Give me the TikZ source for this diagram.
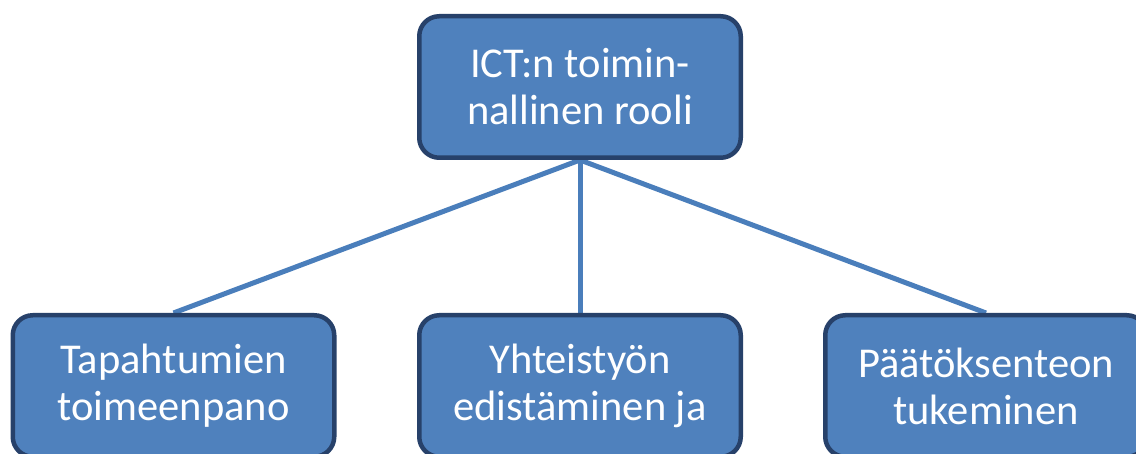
\documentclass[tikz,border=0pt]{standalone}
\usepackage{fontspec}
\setmainfont{Carlito}
\usetikzlibrary{backgrounds}
\definecolor{boxfill}{HTML}{4F81BD}
\definecolor{boxedge}{HTML}{27416A}
\definecolor{linkcol}{HTML}{4A7EBB}
\tikzset{
  orgbox/.style={draw=boxedge, fill=boxfill, line width=4.5pt, rounded corners=20pt,
    minimum width=321.5pt, minimum height=141.5pt, inner sep=0pt, align=center,
    text=white, font=\fontsize{42.5pt}{47pt}\selectfont},
  link/.style={draw=linkcol, line width=5pt}
}
\begin{document}
\begin{tikzpicture}[x=1pt,y=1pt]
\useasboundingbox (0,0) rectangle (1136,454);
\clip (0,0) rectangle (1136,454);
\node[orgbox] (top) at (580,367) {ICT:n toimin-\\nallinen rooli};
\node[orgbox] (left) at (173.5,68) {Tapahtumien\\toimeenpano};
\node[orgbox] (mid) at (580,68) {Yhteistyön\\edistäminen ja};
\node[orgbox] (right) at (986,68) {Päätöksenteon\\tukeminen};
\begin{scope}[on background layer]
\draw[link] (top.south) -- (left.north);
\draw[link] (top.south) -- (mid.north);
\draw[link] (top.south) -- (right.north);
\end{scope}
\end{tikzpicture}
\end{document}
